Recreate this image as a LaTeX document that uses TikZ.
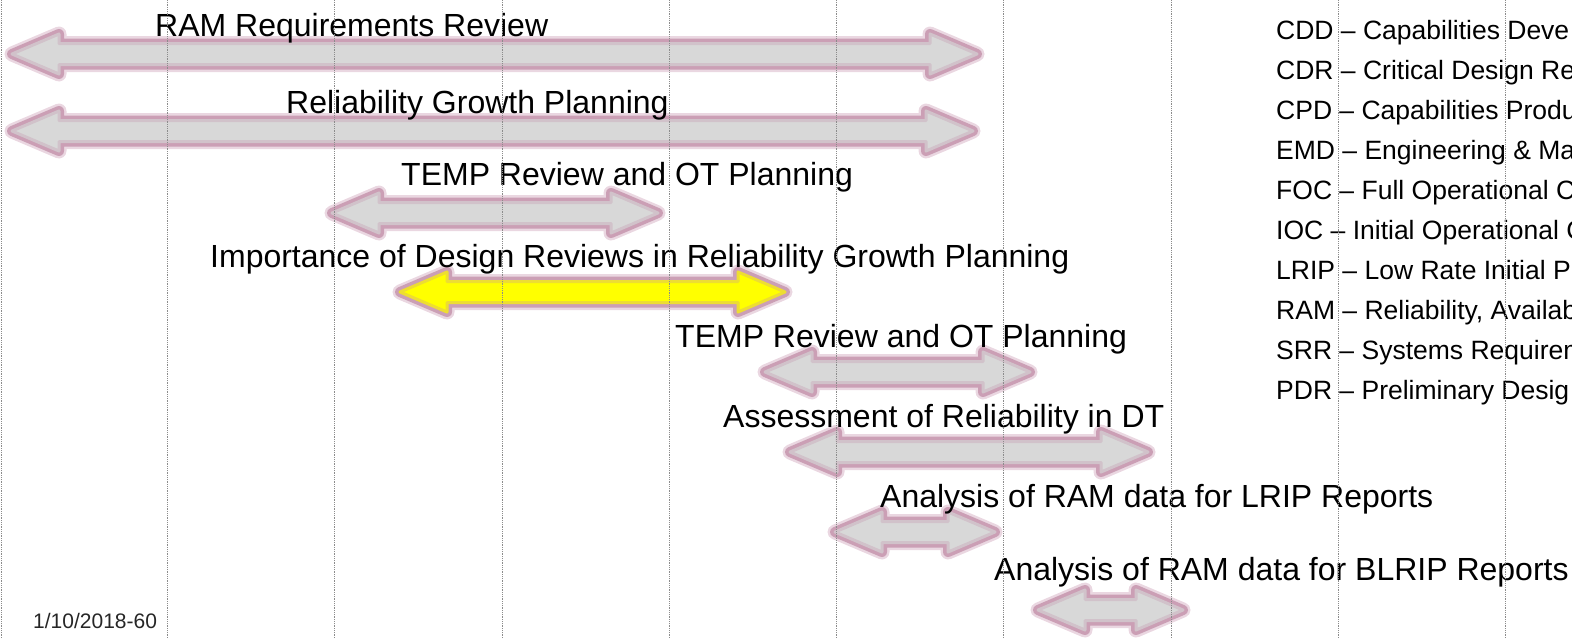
\documentclass[tikz,border=0pt]{standalone}
\usepackage{fontspec}
\setmainfont{Liberation Sans}
\definecolor{mauve}{RGB}{194,142,168}
\definecolor{bargray}{RGB}{216,216,216}
\definecolor{baryellow}{RGB}{255,255,0}

\begin{document}
\begin{tikzpicture}[x=1pt,y=-1pt,
    lbl/.style={anchor=base west, inner sep=0pt, font=\fontsize{32}{36}\selectfont},
    keyline/.style={anchor=base west, inner sep=0pt, font=\fontsize{26.5}{30}\selectfont},
    gridline/.style={black!45, densely dotted, line width=0.8pt}]
    \useasboundingbox (0,0) rectangle (1572,638);
    \clip (0,0) rectangle (1572,638);
    \def\arrowpath#1#2#3{(#1+5,#3) -- (#1+52,#3-20) -- (#1+52,#3-10.5) -- (#2-52,#3-10.5) -- (#2-52,#3-20) -- (#2-5,#3)
        -- (#2-52,#3+20) -- (#2-52,#3+10.5) -- (#1+52,#3+10.5) -- (#1+52,#3+20) -- cycle}
    \def\bararrow#1#2#3#4{%
        \draw[mauve!35, line width=15pt, line join=round] \arrowpath{#1}{#2}{#3};
        \draw[mauve!85, line width=10pt, line join=round] \arrowpath{#1}{#2}{#3};
        \fill[#4] \arrowpath{#1}{#2}{#3};
        \draw[#4!70!mauve, line width=3pt, line join=round] \arrowpath{#1}{#2}{#3};
    }
    % bars
    \bararrow{7}{982}{54}{bargray}
    \bararrow{7}{978}{131}{bargray}
    \bararrow{327}{663}{213}{bargray}
    \bararrow{395}{790}{292}{baryellow}
    \bararrow{760}{1035}{372}{bargray}
    \bararrow{785}{1153}{452}{bargray}
    \bararrow{830}{1000}{532}{bargray}
    \bararrow{1033}{1188}{610}{bargray}
    % bar labels
    \node[lbl] (ramrev) at (155,36) {RAM Requirements Review};
    \node[lbl] (relgrowth) at (286,113) {Reliability Growth Planning};
    \node[lbl] (tempone) at (401,185) {TEMP Review and OT Planning};
    \node[lbl] (importance) at (210,267) {Importance of Design Reviews in Reliability Growth Planning};
    \node[lbl] (temptwo) at (675,347) {TEMP Review and OT Planning};
    \node[lbl] (assessdt) at (723,427) {Assessment of Reliability in DT};
    \node[lbl] (lripdata) at (880,507) {Analysis of RAM data for LRIP Reports};
    \node[lbl] (blripdata) at (994,580) {Analysis of RAM data for BLRIP Reports};
    % acronym list
    \node[keyline] (cdd) at (1276,39) {CDD -- Capabilities Deve};
    \node[keyline] (cdr) at (1276,79) {CDR -- Critical Design Re};
    \node[keyline] (cpd) at (1276,119) {CPD -- Capabilities Produ};
    \node[keyline] (emd) at (1276,159) {EMD -- Engineering \& Ma};
    \node[keyline] (foc) at (1276,199) {FOC -- Full Operational C};
    \node[keyline] (ioc) at (1276,239) {IOC -- Initial Operational C};
    \node[keyline] (lrip) at (1276,279) {LRIP -- Low Rate Initial P};
    \node[keyline] (ram) at (1276,319) {RAM -- Reliability, Availab};
    \node[keyline] (srr) at (1276,359) {SRR -- Systems Requirem};
    \node[keyline] (pdr) at (1276,399) {PDR -- Preliminary Desig};
    \node[anchor=base west, inner sep=0pt, font=\fontsize{21}{24}\selectfont, text=black!85] (datestamp) at (33,628) {1/10/2018-60};
    % time grid
    \draw[gridline] (1,0) -- (1,638);
    \foreach \k in {1,...,9}
        \draw[gridline] (167.3*\k,0) -- (167.3*\k,638);
\end{tikzpicture}
\end{document}
